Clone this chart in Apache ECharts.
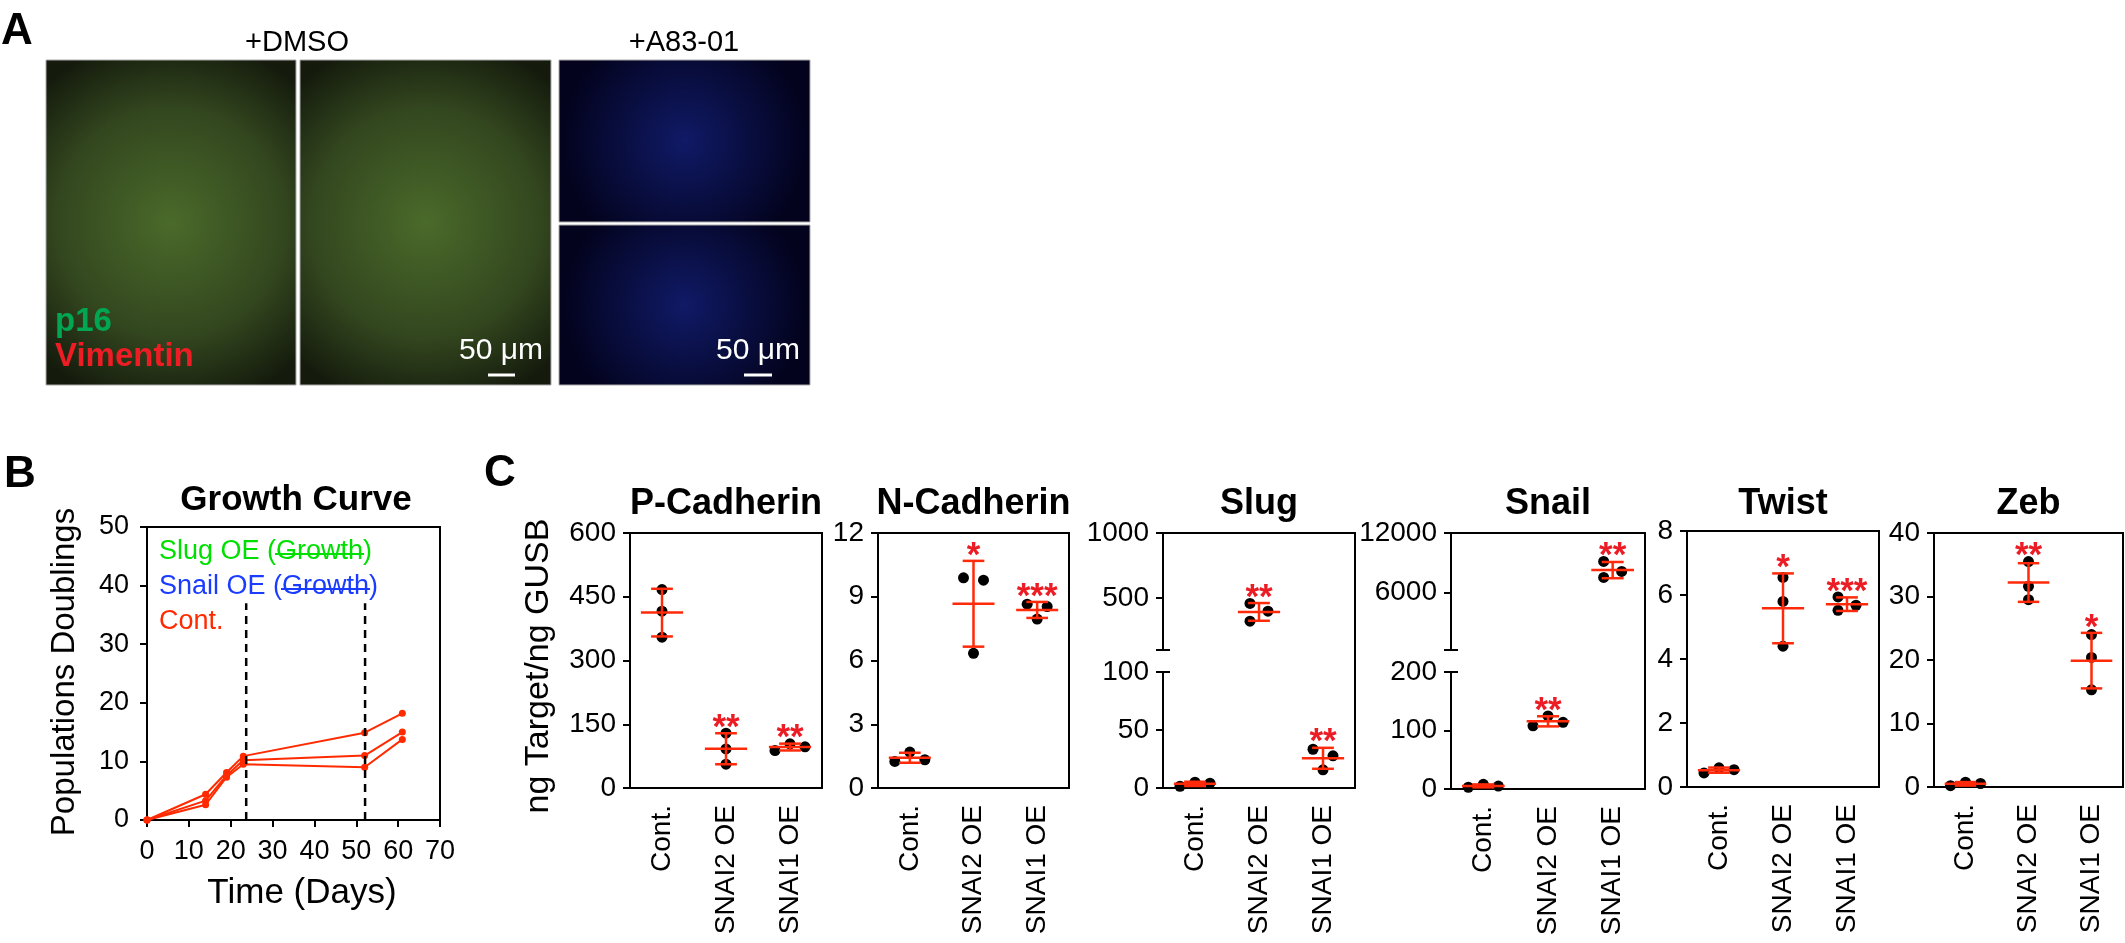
<!DOCTYPE html>
<html>
<head>
<meta charset="utf-8">
<script src="https://cdn.jsdelivr.net/npm/echarts@6/dist/echarts.min.js"></script>
<style>
  html, body { margin: 0; padding: 0; background: #fff; }
  #fig { width: 2125px; height: 943px; }
</style>
</head>
<body>
<div id="fig"></div>
<script>
const FONT = '"Liberation Sans", Arial, Helvetica, sans-serif';

// ---- panel B: growth curve ----
const growthDays = [0, 14, 19, 23, 52, 61];
const growthLine1 = [0, 4.4, 8.1, 10.9, 14.9, 18.2];
const growthLine2 = [0, 3.3, 7.6, 10.2, 11.0, 15.0];
const growthLine3 = [0, 2.6, 7.3, 9.5, 9.0, 13.75];
const passageDays = [23.7, 52.1];
const passageTop = 37;

// ---- panel C: qPCR, three replicates per group (left-to-right order) ----
const groups = ['Cont.', 'SNAI2 OE', 'SNAI1 OE'];
const pCadherin = [[467, 416, 355], [129, 92, 56], [88, 104, 97]];
const nCadherin = [[1.25, 1.69, 1.33], [9.89, 6.34, 9.78], [8.65, 7.95, 8.54]];
const slug = [[1.5, 5.0, 4.2], [458, 322, 399], [33.4, 15.7, 27.7]];
const snail = [[3, 8, 5], [108, 125, 114], [9135, 7516, 8123]];
const twist = [[0.44, 0.6, 0.54], [6.55, 5.8, 4.4], [5.94, 5.52, 5.68]];
const zeb = [[0.2, 0.75, 0.55], [35.5, 31.6, 29.5], [24.0, 20.4, 15.3]];

const pCadherinStars = ['', '**', '**'];
const nCadherinStars = ['', '*', '***'];
const slugStars = ['', '**', '**'];
const snailStars = ['', '**', '**'];
const twistStars = ['', '*', '***'];
const zebStars = ['', '**', '*'];

// axis ranges (broken axes have two segments: lower, upper)
const pCadherinAxis = [{min: 0, max: 600, interval: 150}];
const nCadherinAxis = [{min: 0, max: 12, interval: 3}];
const slugAxis = [{min: 0, max: 100, interval: 50}, {min: 100, max: 1000, ticks: [500, 1000]}];
const snailAxis = [{min: 0, max: 200, interval: 100}, {min: 200, max: 12000, ticks: [6000, 12000]}];
const twistAxis = [{min: 0, max: 8, interval: 2}];
const zebAxis = [{min: 0, max: 40, interval: 10}];

const panels = [
  {title: 'P-Cadherin', values: pCadherin, stars: pCadherinStars, seg: pCadherinAxis, box: [630, 533, 822, 788]},
  {title: 'N-Cadherin', values: nCadherin, stars: nCadherinStars, seg: nCadherinAxis, box: [878, 533, 1069, 788]},
  {title: 'Slug', values: slug, stars: slugStars, seg: slugAxis, box: [1163, 533, 1355, 788]},
  {title: 'Snail', values: snail, stars: snailStars, seg: snailAxis, box: [1451, 533, 1645, 789]},
  {title: 'Twist', values: twist, stars: twistStars, seg: twistAxis, box: [1687, 531, 1879, 787]},
  {title: 'Zeb', values: zeb, stars: zebStars, seg: zebAxis, box: [1934, 533, 2123, 787]}
];
const breakLowerTop = 672;
const breakUpperBottom = 650;

const BAR_RED = '#ff2a0a';
const STAR_RED = '#ec1c24';
const CURVE_RED = '#ff2a00';
const AXIS = {lineStyle: {color: '#000', width: 2}};
const plain = v => String(v);

const mean = a => a.reduce((s, v) => s + v, 0) / a.length;
const sd = a => {
  const m = mean(a);
  return Math.sqrt(a.reduce((s, v) => s + (v - m) * (v - m), 0) / (a.length - 1));
};

// graphpad-like spreading of overlapping dots
function spread(vals, pxPerUnit) {
  const off = vals.map(() => 0);
  const near = (a, b) => Math.abs(vals[a] - vals[b]) * pxPerUnit < 11;
  const idx = vals.map((v, i) => i).sort((a, b) => vals[b] - vals[a]);
  const clusters = [];
  let cur = [idx[0]];
  for (let k = 1; k < idx.length; k++) {
    if (near(idx[k - 1], idx[k])) cur.push(idx[k]);
    else { clusters.push(cur); cur = [idx[k]]; }
  }
  clusters.push(cur);
  clusters.forEach(c => {
    if (c.length === 2) {
      const s = c.slice().sort((a, b) => a - b);
      off[s[0]] = -10; off[s[1]] = 10;
    } else if (c.length === 3) {
      if (near(c[0], c[2])) {
        const s = c.slice().sort((a, b) => a - b);
        off[s[0]] = -15; off[s[1]] = 0; off[s[2]] = 15;
      } else {
        off[c[0]] = -9; off[c[2]] = -9; off[c[1]] = 9;
      }
    }
  });
  return off;
}

function renderErr(params, api) {
  const x = api.value(0);
  const c = api.coord([x, api.value(1)]);
  const lo = api.coord([x, api.value(2)]);
  const hi = api.coord([x, api.value(3)]);
  const bw = api.size([1, 0])[0];
  const wm = bw * 0.33, wc = bw * 0.17;
  const st = {stroke: BAR_RED, lineWidth: 2.5};
  return {
    type: 'group',
    children: [
      {type: 'line', shape: {x1: c[0] - wm, y1: c[1], x2: c[0] + wm, y2: c[1]}, style: st},
      {type: 'line', shape: {x1: c[0], y1: lo[1], x2: c[0], y2: hi[1]}, style: st},
      {type: 'line', shape: {x1: c[0] - wc, y1: lo[1], x2: c[0] + wc, y2: lo[1]}, style: st},
      {type: 'line', shape: {x1: c[0] - wc, y1: hi[1], x2: c[0] + wc, y2: hi[1]}, style: st}
    ]
  };
}

const grids = [], xAxes = [], yAxes = [], series = [];

// ---- panel B ----
grids.push({left: 147, top: 527, width: 293, height: 293, show: true, borderColor: '#000', borderWidth: 2});
xAxes.push({
  gridIndex: 0, type: 'value', min: 0, max: 70, interval: 10,
  axisLine: AXIS, axisTick: {length: 7, lineStyle: {color: '#000', width: 2}},
  axisLabel: {fontSize: 27, color: '#000', fontFamily: FONT, margin: 18},
  splitLine: {show: false}
});
yAxes.push({
  gridIndex: 0, type: 'value', min: 0, max: 50, interval: 10,
  axisLine: {show: true, lineStyle: {color: '#000', width: 2}},
  axisTick: {show: true, length: 7, lineStyle: {color: '#000', width: 2}},
  axisLabel: {fontSize: 27, color: '#000', fontFamily: FONT, margin: 18},
  splitLine: {show: false}
});
[growthLine1, growthLine2, growthLine3].forEach(line => {
  series.push({
    type: 'line', xAxisIndex: 0, yAxisIndex: 0,
    data: growthDays.map((d, i) => [d, line[i]]),
    symbol: 'circle', symbolSize: 7, color: CURVE_RED,
    itemStyle: {color: CURVE_RED, opacity: 1},
    lineStyle: {color: CURVE_RED, width: 2}, z: 3, silent: true
  });
});
passageDays.forEach(d => {
  series.push({
    type: 'line', xAxisIndex: 0, yAxisIndex: 0,
    data: [[d, 0], [d, passageTop]], symbol: 'none',
    lineStyle: {color: '#000', width: 2.5, type: [8, 6]}, z: 4, silent: true
  });
});

// ---- panel C ----
panels.forEach(p => {
  const [x0, y0, x1, y1] = p.box;
  const w = x1 - x0;
  const broken = p.seg.length === 2;
  const segs = broken
    ? [Object.assign({top: breakLowerTop, bottom: y1}, p.seg[0]), Object.assign({top: y0, bottom: breakUpperBottom}, p.seg[1])]
    : [Object.assign({top: y0, bottom: y1}, p.seg[0])];

  if (broken) {
    const g = grids.length;
    grids.push({left: x0, top: y0, width: w, height: y1 - y0, show: false});
    xAxes.push({gridIndex: g, type: 'value', position: 'top', min: 0, max: 1,
      axisLine: {show: true, onZero: false, lineStyle: {color: '#000', width: 2}},
      axisTick: {show: false}, axisLabel: {show: false}, splitLine: {show: false}});
    yAxes.push({gridIndex: g, type: 'value', position: 'right', min: 0, max: 1,
      axisLine: {show: true, onZero: false, lineStyle: {color: '#000', width: 2}},
      axisTick: {show: false}, axisLabel: {show: false}, splitLine: {show: false}});
  }

  segs.forEach((s, si) => {
    const g = grids.length;
    grids.push({left: x0, top: s.top, width: w, height: s.bottom - s.top,
      show: !broken, borderColor: '#000', borderWidth: 2});
    const xi = xAxes.length;
    xAxes.push({
      gridIndex: g, type: 'category', data: groups, show: si === 0,
      axisLine: AXIS,
      axisTick: {alignWithLabel: true, length: 7, lineStyle: {color: '#000', width: 2}},
      axisLabel: {rotate: 90, fontSize: 28, color: '#000', fontFamily: FONT, margin: 17}
    });
    const yi = yAxes.length;
    const yBase = {
      gridIndex: g, type: 'value', min: s.min, max: s.max,
      axisLine: {show: true, lineStyle: {color: '#000', width: 2}},
      splitLine: {show: false}
    };
    if (s.ticks) {
      yAxes.push(Object.assign({}, yBase, {
        axisTick: {show: true, length: 7, lineStyle: {color: '#000', width: 2}, customValues: [s.min].concat(s.ticks)},
        axisLabel: {fontSize: 28, color: '#000', fontFamily: FONT, margin: 14, customValues: s.ticks, formatter: plain}
      }));
    } else {
      yAxes.push(Object.assign({}, yBase, {
        interval: s.interval,
        axisTick: {show: true, length: 7, lineStyle: {color: '#000', width: 2}},
        axisLabel: {fontSize: 28, color: '#000', fontFamily: FONT, margin: 14, formatter: plain}
      }));
    }
    if (broken) {
      // inward half of the break mark
      yAxes.push({
        gridIndex: g, type: 'value', min: s.min, max: s.max, position: 'left',
        axisLine: {show: false}, axisLabel: {show: false}, splitLine: {show: false},
        axisTick: {show: true, inside: true, length: 7, lineStyle: {color: '#000', width: 2},
          customValues: [si === 0 ? s.max : s.min]}
      });
    }

    const pxPerUnit = (s.bottom - s.top) / (s.max - s.min);
    const dots = [], bars = [], stars = [];
    p.values.forEach((vals, ci) => {
      const m = mean(vals);
      if (m < s.min || m > s.max) return;
      const e = sd(vals);
      const off = spread(vals, pxPerUnit);
      vals.forEach((v, i) => dots.push({value: [ci, v], symbolOffset: [off[i], 0]}));
      bars.push([ci, m, m - e, m + e]);
      if (p.stars[ci]) {
        stars.push({value: [ci, Math.max(m + e, Math.max.apply(null, vals))], label: {formatter: p.stars[ci]}});
      }
    });
    series.push({type: 'scatter', xAxisIndex: xi, yAxisIndex: yi, data: dots,
      symbol: 'circle', symbolSize: 11, itemStyle: {color: '#000', opacity: 1}, z: 2, silent: true});
    series.push({type: 'custom', xAxisIndex: xi, yAxisIndex: yi, data: bars,
      renderItem: renderErr, z: 3, silent: true});
    series.push({type: 'scatter', xAxisIndex: xi, yAxisIndex: yi, data: stars,
      symbolSize: 0, z: 4, silent: true, itemStyle: {opacity: 1},
      label: {show: true, position: 'top', distance: 0, color: STAR_RED, fontSize: 35,
        fontWeight: 'bold', fontFamily: FONT, lineHeight: 10}});
  });
});

// ---- texts and image placeholders ----
const ctx = document.createElement('canvas').getContext('2d');
function textWidth(t, font) { ctx.font = font; return ctx.measureText(t).width; }

function txt(text, x, y, size, o) {
  o = o || {};
  const font = (o.weight || 'normal') + ' ' + size + 'px ' + FONT;
  return {
    type: 'text', x: x, y: y, rotation: o.rot || 0, z: 100, silent: true,
    style: {text: text, font: font, fill: o.color || '#000',
      align: o.align || 'center', verticalAlign: 'middle',
      textAlign: o.align || 'center', textVerticalAlign: 'middle'}
  };
}

const graphics = [];
// panel A photos (drawn as dark placeholders)
function photo(x, y, w, h, stops) {
  graphics.push({
    type: 'rect', shape: {x: x, y: y, width: w, height: h}, z: 1, silent: true,
    style: {fill: new echarts.graphic.RadialGradient(0.5, 0.5, 0.75, stops), stroke: '#aaa', lineWidth: 1}
  });
}
const dmsoStops = [{offset: 0, color: '#4a6a2a'}, {offset: 0.6, color: '#33471f'}, {offset: 1, color: '#141a0c'}];
const a83Stops = [{offset: 0, color: '#101a66'}, {offset: 1, color: '#03031e'}];
photo(46, 60, 250, 325, dmsoStops);
photo(300, 60, 251, 325, dmsoStops);
photo(559, 60, 251, 162, a83Stops);
photo(559, 225, 251, 160, a83Stops);

graphics.push(txt('A', 1, 32, 44, {weight: 'bold', align: 'left'}));
graphics.push(txt('+DMSO', 297, 43, 29));
graphics.push(txt('+A83-01', 684, 43, 29));
graphics.push(txt('p16', 55, 322, 33, {weight: 'bold', align: 'left', color: '#00a651'}));
graphics.push(txt('Vimentin', 55, 357, 33, {weight: 'bold', align: 'left', color: '#ee1c24'}));
graphics.push(txt('50 μm', 501, 351, 30, {color: '#fff'}));
graphics.push(txt('50 μm', 758, 351, 30, {color: '#fff'}));
[[488, 515], [744, 772]].forEach(b => graphics.push({
  type: 'line', shape: {x1: b[0], y1: 375, x2: b[1], y2: 375}, z: 100, silent: true,
  style: {stroke: '#fff', lineWidth: 3}
}));

// panel B texts
graphics.push(txt('B', 4, 475, 44, {weight: 'bold', align: 'left'}));
graphics.push(txt('Growth Curve', 296, 500, 35, {weight: 'bold'}));
graphics.push(txt('Populations Doublings', 65, 672, 33, {rot: Math.PI / 2}));
graphics.push(txt('Time (Days)', 302, 893, 35));
const legendFont = '27px ' + FONT;
[['Slug OE (', '#00e000', 552], ['Snail OE (', '#1a3cff', 587]].forEach(l => {
  const t = l[0] + 'Growth)';
  graphics.push(txt(t, 159, l[2], 27, {align: 'left', color: l[1]}));
  const xs = 159 + textWidth(l[0], legendFont);
  const xe = xs + textWidth('Growth', legendFont);
  graphics.push({type: 'line', shape: {x1: xs - 1, y1: l[2] + 2, x2: xe + 1, y2: l[2] + 2}, z: 101, silent: true,
    style: {stroke: l[1], lineWidth: 2}});
});
graphics.push(txt('Cont.', 159, 622, 27, {align: 'left', color: CURVE_RED}));

// panel C texts
graphics.push(txt('C', 484, 474, 44, {weight: 'bold', align: 'left'}));
graphics.push(txt('ng Target/ng GUSB', 539, 666, 34, {rot: Math.PI / 2}));
panels.forEach(p => {
  graphics.push(txt(p.title, (p.box[0] + p.box[2]) / 2, 504, 36, {weight: 'bold'}));
});

const chart = echarts.init(document.getElementById('fig'), null, {renderer: 'canvas'});
chart.setOption({
  animation: false,
  backgroundColor: '#fff',
  textStyle: {fontFamily: FONT},
  grid: grids,
  xAxis: xAxes,
  yAxis: yAxes,
  series: series,
  graphic: graphics
});
</script>
</body>
</html>
